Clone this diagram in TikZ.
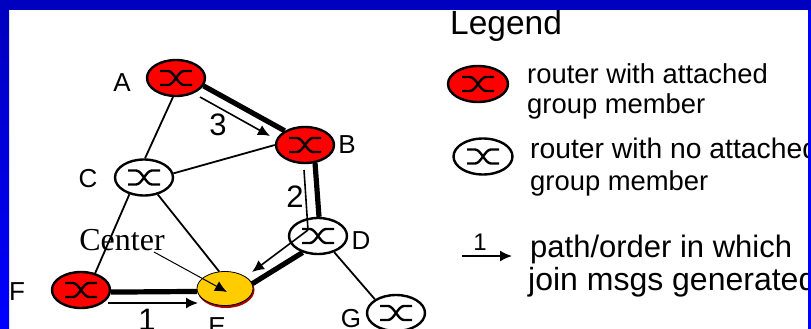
\documentclass[tikz,border=0pt]{standalone}
\usepackage{fontspec}
\setmainfont{Liberation Sans}
\newfontfamily\centerfont{Liberation Serif}
\usetikzlibrary{arrows.meta, shapes.geometric}

\definecolor{routerred}{HTML}{FF0000}
\definecolor{centeryellow}{HTML}{FFCC00}
\definecolor{framedark}{HTML}{0000C0}
\definecolor{framelight}{HTML}{0000FF}

\tikzset{
    routerglyph/.style={path picture={
        \draw[line width=2.4pt, shift={(path picture bounding box.center)}]
            (-16,-7) -- (-8,-7) .. controls (-2,-7) and (2,7) .. (8,7) -- (16,7)
            (-16,7) -- (-8,7) .. controls (-2,7) and (2,-7) .. (8,-7) -- (16,-7);
    }},
    router/.style={ellipse, draw, line width=2.4pt, minimum width=58pt, minimum height=36pt, inner sep=0pt, fill=white, routerglyph},
    member/.style={router, fill=routerred},
    routername/.style={font=\fontsize{26}{28}\selectfont, inner sep=0pt},
    ordernum/.style={font=\fontsize{31}{33}\selectfont, inner sep=0pt},
    thinlink/.style={line width=1.8pt},
    treelink/.style={line width=5.2pt},
    joinpath/.style={line width=1.6pt, -{Latex[length=12pt, width=11pt]}},
    keytext/.style={inner sep=0pt, anchor=base west, font=\fontsize{27.4}{30}\selectfont},
    keytextbig/.style={inner sep=0pt, anchor=base west, font=\fontsize{31}{33}\selectfont},
}

\begin{document}
\begin{tikzpicture}[x=1pt, y=-1pt]
    \useasboundingbox (0,0) rectangle (811,329);
    \clip (0,0) rectangle (811,329);
    \fill[white] (0,0) rectangle (811,329);

    \node[member] (A) at (176,78) {};
    \node[member] (B) at (305,145) {};
    \node[router] (C) at (144,177.5) {};
    \node[router] (D) at (318,236) {};
    \node[member] (F) at (81,290) {};
    \node[router] (G) at (396,313) {};
    \node[ellipse, fill=red!65!black, minimum width=57pt, minimum height=36pt, inner sep=0pt] (Eback) at (226,290) {};
    \node[ellipse, draw, line width=0.8pt, fill=centeryellow, minimum width=56pt, minimum height=34pt, inner sep=0pt] (E) at (225,288.5) {};

    \draw[thinlink] (A.-99) -- (C.87);
    \draw[thinlink] (C.8) -- (B.180);
    \draw[thinlink] (C.229) -- (F.50);
    \draw[thinlink] (C.-51) -- (E.109);
    \draw[thinlink] (D.-45) -- (G.147);
    \draw[treelink] (A.-16) -- (B.145);
    \draw[treelink] (B.-61) -- (D.87);
    \draw[treelink] (D.227) -- (E.10);
    \draw[treelink] (F.-4) -- (E.186);

    \node[routername] (Alabel) at (122,83) {A};
    \node[routername] (Blabel) at (347,145) {B};
    \node[routername] (Clabel) at (88,179) {C};
    \node[routername] (Dlabel) at (361,241) {D};
    \node[routername] (Flabel) at (17,292) {F};
    \node[routername] (Elabel) at (217,327) {E};
    \node[routername] (Glabel) at (351,319) {G};

    \coordinate (threestart) at (200,97);
    \coordinate (threeend) at (270,136);
    \coordinate (twostart) at (304,170);
    \coordinate (twoend) at (308,230);
    \coordinate (onestart) at (108,303);
    \coordinate (oneend) at (198,303);
    \coordinate (dtip) at (252,272);
    \draw[joinpath] (threestart) -- (threeend);
    \draw[line width=1.6pt] (twostart) -- (twoend);
    \draw[joinpath] (twoend) -- (dtip);
    \draw[joinpath] (onestart) -- (oneend);
    \node[ordernum] (three) at (218,125) {3};
    \node[ordernum] (two) at (295,197) {2};
    \node[ordernum] (one) at (147,320) {1};

    \node[inner sep=0pt, font=\centerfont\fontsize{32}{34}\selectfont] (Center) at (122,240) {Center};
    \coordinate (centerstart) at (154,252);
    \coordinate (centertip) at (227,292);
    \draw[line width=1pt, -{Latex[length=12pt, width=11pt]}] (centerstart) -- (centertip);

    % legend
    \node[inner sep=0pt, anchor=base west, font=\fontsize{33.5}{36}\selectfont] (Legend) at (450,35) {Legend};
    \node[member, minimum width=60pt] (memberkey) at (478,84) {};
    \node[router, minimum width=59pt] (plainkey) at (483,156.5) {};
    \node[keytext] (membertext) at (527,83) {router with attached};
    \node[keytext] (membertexttwo) at (527,113) {group member};
    \node[keytext, font=\fontsize{28.3}{30}\selectfont] (plaintext) at (530,158) {router with no attached};
    \node[keytext] (plaintexttwo) at (530,190) {group member};
    \coordinate (keystart) at (462,256);
    \coordinate (keyend) at (512,256);
    \draw[joinpath] (keystart) -- (keyend);
    \node[inner sep=0pt, font=\fontsize{24}{26}\selectfont] (keyone) at (480,242) {1};
    \node[keytextbig] (ordertext) at (530,257) {path/order in which};
    \node[keytextbig, font=\fontsize{32}{33}\selectfont] (ordertexttwo) at (528,290) {join msgs generated};

    % frame
    \fill[framedark] (0,0) rectangle (811,10);
    \shade[top color=framedark, bottom color=framelight] (0,10) rectangle (9,329);
    \fill[framelight] (808,10) rectangle (811,329);
\end{tikzpicture}
\end{document}
